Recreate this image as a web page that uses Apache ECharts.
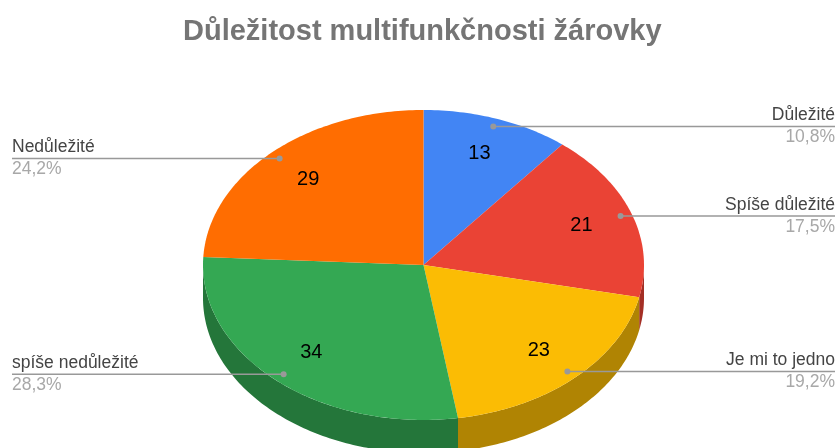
<!DOCTYPE html>
<html>
<head>
<meta charset="utf-8">
<style>
    html, body { margin: 0; padding: 0; background: #fff; }
    #chart { width: 837px; height: 448px; }
</style>
<script src="https://cdn.jsdelivr.net/npm/echarts@6/dist/echarts.min.js"></script>
</head>
<body>
<div id="chart"></div>
<script>
// 数据
const categories = ['Důležité', 'Spíše důležité', 'Je mi to jedno', 'spíše nedůležité', 'Nedůležité'];
const counts = [13, 21, 23, 34, 29];
const percentLabels = ['10,8%', '17,5%', '19,2%', '28,3%', '24,2%'];
const colors = ['#4285f4', '#ea4335', '#fbbc04', '#34a853', '#ff6d01'];
const sideColors = ['#2e5dab', '#a42f25', '#b08403', '#24763a', '#b34c01'];

// 椭圆饼图的位置
const cx = 423.5;
const cy = 265;
const rx = 220.5;
const ry = 155;
const depth = 33;
const fontFamily = '"Liberation Sans", Arial, sans-serif';

const total = counts.reduce((a, b) => a + b, 0);

function sliceAngles(index) {
    let before = 0;
    for (let i = 0; i < index; i++) {
        before += counts[i];
    }
    return [
        (before / total) * Math.PI * 2,
        ((before + counts[index]) / total) * Math.PI * 2
    ];
}

// 角度从正上方开始，顺时针
function pointAt(angle, ratio, offsetY) {
    return [
        cx + Math.sin(angle) * rx * ratio,
        cy - Math.cos(angle) * ry * ratio + (offsetY || 0)
    ];
}

function arcPoints(start, end, offsetY) {
    const points = [];
    const steps = Math.max(2, Math.ceil((end - start) * 60));
    for (let i = 0; i <= steps; i++) {
        points.push(pointAt(start + ((end - start) * i) / steps, 1, offsetY));
    }
    return points;
}

function renderSide(params) {
    const [a0, a1] = sliceAngles(params.dataIndex);
    const start = Math.max(a0, Math.PI / 2);
    const end = Math.min(a1, (Math.PI * 3) / 2);
    if (start >= end) {
        return null;
    }
    const points = arcPoints(start, end, 0).concat(arcPoints(start, end, depth).reverse());
    return {
        type: 'polygon',
        shape: { points: points },
        style: { fill: sideColors[params.dataIndex] }
    };
}

function renderTop(params) {
    const [a0, a1] = sliceAngles(params.dataIndex);
    return {
        type: 'polygon',
        shape: { points: [[cx, cy]].concat(arcPoints(a0, a1, 0)) },
        style: { fill: colors[params.dataIndex] }
    };
}

function renderLabel(params) {
    const i = params.dataIndex;
    const [a0, a1] = sliceAngles(i);
    const mid = (a0 + a1) / 2;
    const dot = pointAt(mid, 0.948);
    const num = pointAt(mid, 0.76);
    const right = Math.sin(mid) > 0;
    const edge = right ? 835 : 12;
    return {
        type: 'group',
        children: [
            {
                type: 'line',
                shape: { x1: dot[0], y1: dot[1], x2: edge, y2: dot[1] },
                style: { stroke: '#999999', lineWidth: 1.5 }
            },
            {
                type: 'circle',
                shape: { cx: dot[0], cy: dot[1], r: 3 },
                style: { fill: '#999999' }
            },
            {
                type: 'text',
                x: num[0],
                y: num[1],
                style: {
                    text: String(counts[i]),
                    fill: '#000000',
                    font: '20px ' + fontFamily,
                    align: 'center',
                    verticalAlign: 'middle'
                }
            },
            {
                type: 'text',
                x: edge,
                y: dot[1] - 11,
                style: {
                    text: categories[i],
                    fill: '#444444',
                    font: '17.5px ' + fontFamily,
                    align: right ? 'right' : 'left',
                    verticalAlign: 'middle'
                }
            },
            {
                type: 'text',
                x: edge,
                y: dot[1] + 11,
                style: {
                    text: percentLabels[i],
                    fill: '#a8a8a8',
                    font: '17.5px ' + fontFamily,
                    align: right ? 'right' : 'left',
                    verticalAlign: 'middle'
                }
            }
        ]
    };
}

const chart = echarts.init(document.getElementById('chart'), null, { renderer: 'canvas' });
const seriesBase = {
    type: 'custom',
    coordinateSystem: 'none',
    animation: false,
    silent: true,
    data: counts
};
chart.setOption({
    animation: false,
    title: {
        text: 'Důležitost multifunkčnosti žárovky',
        left: 178,
        top: 12,
        textStyle: {
            color: '#757575',
            fontSize: 29,
            fontWeight: 'bold',
            fontFamily: fontFamily
        }
    },
    series: [
        Object.assign({}, seriesBase, { z: 1, renderItem: renderSide }),
        Object.assign({}, seriesBase, { z: 2, renderItem: renderTop }),
        Object.assign({}, seriesBase, { z: 3, renderItem: renderLabel })
    ]
});
</script>
</body>
</html>
